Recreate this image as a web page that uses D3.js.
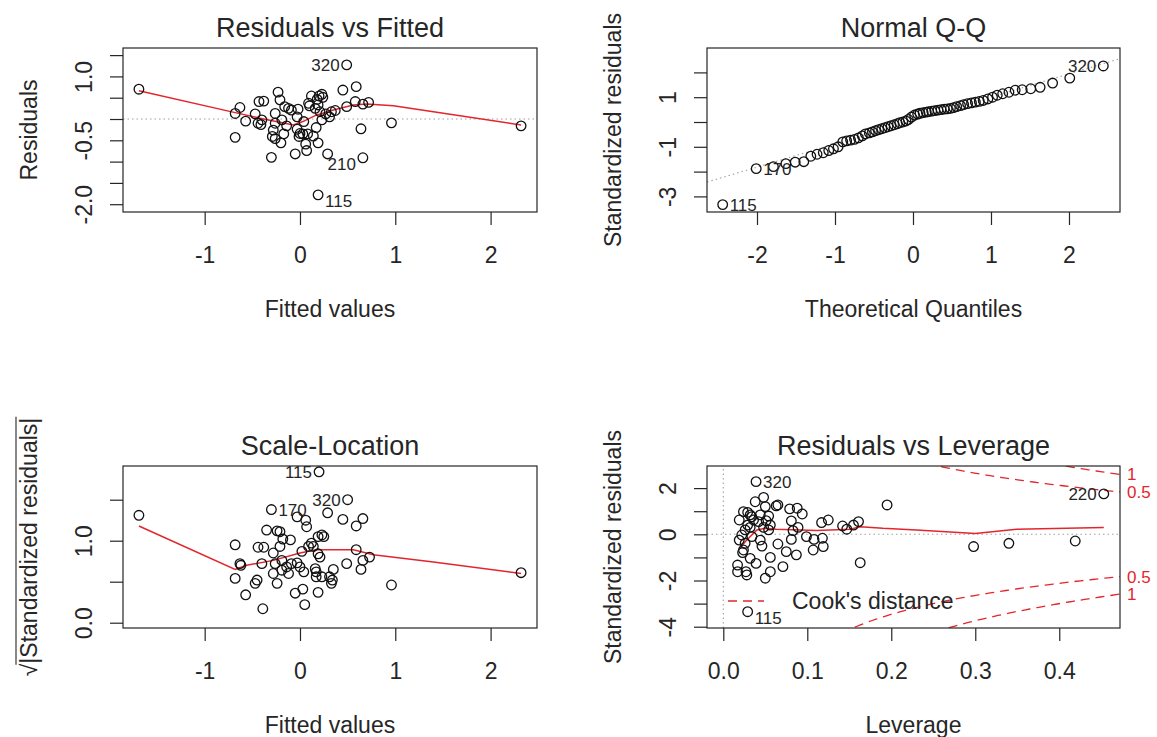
<!DOCTYPE html>
<html><head><meta charset="utf-8">
<script src="https://cdn.jsdelivr.net/npm/d3@7"></script>
<style>body{margin:0;background:#fff}</style>
</head><body><svg id="c" width="1157" height="737"></svg>
<script>
// ---------- DATA ----------
// Panel 1: Residuals vs Fitted
const rvfFitted = [-1.69,-0.68,-0.63,-0.68,-0.57,-0.47,-0.43,-0.38,-0.44,-0.40,-0.41,-0.30,-0.23,-0.21,-0.26,-0.26,-0.28,-0.29,-0.26,-0.20,-0.17,-0.16,-0.12,-0.09,-0.03,-0.02,-0.05,-0.03,0.00,0.04,0.03,0.06,0.07,0.09,0.12,0.14,0.17,0.19,0.19,0.20,0.23,0.24,0.19,0.21,0.23,0.29,0.27,0.33,0.37,0.45,0.49,0.49,0.59,0.58,0.64,0.66,0.66,0.72,0.96,2.32,0.10,0.16,-0.01,-0.14,-0.19,0.31,0.18,0.08];
const rvfResid = [0.70,0.13,0.27,-0.43,-0.05,0.12,0.41,0.42,-0.10,-0.02,-0.13,-0.90,0.63,0.45,0.13,-0.10,-0.26,-0.41,-0.46,-0.56,-0.35,0.29,0.25,0.21,0.05,0.23,-0.82,-0.24,-0.34,-0.06,-0.35,-0.59,-0.74,0.37,0.54,-0.40,-0.20,-0.56,-1.78,0.54,0.58,0.51,0.33,0.17,-0.02,-0.82,0.12,0.17,0.20,0.68,1.27,0.29,0.76,0.41,-0.23,-0.91,0.35,0.39,-0.09,-0.16,0.31,0.25,-0.41,-0.16,-0.02,0.05,0.46,-0.35];
const rvfSmoothX = [-1.69,-0.68,-0.42,-0.07,0.03,0.17,0.35,0.56,0.70,0.98,1.40,2.32];
const rvfSmoothY = [0.665,0.15,0.02,-0.14,-0.06,0.09,0.21,0.33,0.35,0.31,0.17,-0.14];
const rvfLabelIdx = [50, 38, 55];
const rvfLabelText = ["320", "115", "210"];
const rvfLabelSide = ["l", "r", "l"];
const rvfXTicks = [-1, 0, 1, 2];
const rvfXLabels = ["-1", "0", "1", "2"];
const rvfYTicks = [-2, -1.5, -1, -0.5, 0, 0.5, 1, 1.5];
const rvfYLabels = ["-2.0", "", "", "-0.5", "", "", "1.0", ""];

// Panel 2: Normal Q-Q
const qqTheo = [-2.44,-2.01,-1.79,-1.63,-1.51,-1.40,-1.31,-1.23,-1.15,-1.08,-1.02,-0.96,-0.90,-0.85,-0.80,-0.75,-0.70,-0.65,-0.61,-0.56,-0.52,-0.48,-0.44,-0.40,-0.36,-0.32,-0.28,-0.24,-0.20,-0.17,-0.13,-0.09,-0.06,-0.02,0.02,0.06,0.09,0.13,0.17,0.20,0.24,0.28,0.32,0.36,0.40,0.44,0.48,0.52,0.56,0.61,0.65,0.70,0.75,0.80,0.85,0.90,0.96,1.02,1.08,1.15,1.23,1.31,1.40,1.51,1.63,1.79,2.01,2.44];
const qqStd = [-3.33,-1.88,-1.80,-1.68,-1.62,-1.60,-1.38,-1.30,-1.24,-1.15,-1.08,-1.00,-0.80,-0.76,-0.73,-0.70,-0.64,-0.56,-0.48,-0.44,-0.40,-0.35,-0.31,-0.27,-0.23,-0.19,-0.15,-0.11,-0.07,-0.03,0.00,0.04,0.10,0.20,0.28,0.32,0.35,0.38,0.40,0.42,0.44,0.46,0.48,0.50,0.52,0.53,0.55,0.58,0.62,0.66,0.70,0.74,0.77,0.80,0.83,0.87,0.93,1.00,1.08,1.14,1.20,1.28,1.30,1.34,1.40,1.57,1.77,2.26];
const qqLineIntercept = 0.06;
const qqLineSlope = 0.94;
const qqLabelIdx = [67, 1, 0];
const qqLabelText = ["320", "170", "115"];
const qqLabelSide = ["l", "r", "r"];
const qqXTicks = [-2, -1, 0, 1, 2];
const qqXLabels = ["-2", "-1", "0", "1", "2"];
const qqYTicks = [-3, -2, -1, 0, 1, 2];
const qqYLabels = ["-3", "", "-1", "", "1", ""];

// Panel 3: Scale-Location
const slFitted = [-1.69,-0.68,-0.63,-0.62,-0.68,-0.57,-0.47,-0.45,-0.39,-0.44,-0.38,-0.40,-0.35,-0.30,-0.24,-0.21,-0.18,-0.21,-0.28,-0.26,-0.28,-0.24,-0.19,-0.14,-0.09,-0.03,-0.05,-0.03,0.02,0.03,0.05,0.06,0.07,0.09,0.12,0.16,0.17,0.19,0.20,0.19,0.23,0.25,0.21,0.23,0.29,0.31,0.35,0.33,0.45,0.50,0.49,0.59,0.66,0.59,0.64,0.66,0.73,0.96,2.32,0.19,0.14,0.00,-0.12,-0.19,0.04,0.17,0.34,-0.10];
const slSqrtStd = [1.31,0.95,0.72,0.70,0.54,0.34,0.48,0.52,0.17,0.92,0.92,0.72,1.13,1.38,1.12,1.11,1.02,0.93,0.85,0.72,0.60,0.48,0.64,0.68,0.72,0.73,0.36,1.29,0.87,0.41,0.22,1.25,1.17,0.93,0.97,0.66,0.56,0.37,1.84,1.05,1.07,1.05,0.80,0.56,1.34,0.56,0.65,0.48,1.26,1.50,0.72,1.18,1.27,0.89,0.65,0.76,0.80,0.46,0.61,0.84,0.93,0.68,0.60,0.76,0.62,0.62,0.52,1.01];
const slSmoothX = [-1.69,-0.68,-0.56,-0.28,0.00,0.17,0.56,0.77,1.40,2.32];
const slSmoothY = [1.18,0.65,0.70,0.76,0.85,0.89,0.89,0.83,0.74,0.60];
const slLabelIdx = [38, 13, 49];
const slLabelText = ["115", "170", "320"];
const slLabelSide = ["l", "r", "l"];
const slYTicks = [0, 0.5, 1, 1.5];
const slYLabels = ["0.0", "", "1.0", ""];

// Panel 4: Residuals vs Leverage
const rvlLev = [0.039,0.029,0.453,0.195,0.298,0.340,0.419,0.163,0.017,0.017,0.028,0.027,0.050,0.056,0.071,0.056,0.039,0.032,0.023,0.026,0.046,0.065,0.075,0.087,0.081,0.083,0.089,0.081,0.079,0.088,0.094,0.107,0.119,0.108,0.099,0.118,0.117,0.125,0.142,0.147,0.155,0.161,0.038,0.048,0.050,0.063,0.065,0.024,0.029,0.032,0.044,0.054,0.036,0.042,0.051,0.056,0.029,0.026,0.032,0.048,0.054,0.022,0.019,0.024,0.034,0.044,0.019,0.034];
const rvlStd = [2.28,-3.35,1.75,1.27,-0.53,-0.39,-0.29,-1.23,-1.33,-1.62,-1.76,-1.62,-1.90,-1.62,-1.40,-1.00,-1.26,-1.04,-0.79,-0.39,-0.51,-0.42,-0.75,-0.89,-0.22,0.16,0.30,0.58,1.10,1.13,0.88,-0.68,-0.53,-0.22,-0.10,-0.17,0.51,0.62,0.36,0.22,0.40,0.55,1.41,1.60,1.20,1.23,1.27,0.98,0.95,0.84,0.84,0.79,0.62,0.55,0.59,0.40,0.40,0.19,0.30,0.30,0.19,-0.03,-0.25,-0.68,-0.10,-0.25,0.62,0.76];
const rvlSmoothX = [0.019,0.028,0.040,0.050,0.063,0.111,0.151,0.163,0.190,0.230,0.300,0.349,0.453];
const rvlSmoothY = [-0.61,-0.25,0.19,0.26,0.22,0.16,0.22,0.33,0.26,0.19,0.04,0.22,0.30];
const rvlLabelIdx = [0, 1, 2];
const rvlLabelText = ["320", "115", "220"];
const rvlLabelSide = ["r", "r", "l"];
const rvlXTicks = [0, 0.1, 0.2, 0.3, 0.4];
const rvlXLabels = ["0.0", "0.1", "0.2", "0.3", "0.4"];
const rvlYTicks = [-4, -3, -2, -1, 0, 1, 2];
const rvlYLabels = ["-4", "", "-2", "", "0", "", "2"];
const cookLevels = [0.5, 1];
const nParams = 6;

// ---------- DRAWING ----------
const FONT = '"Liberation Sans", Arial, Helvetica, sans-serif';
const INK = "#262626";
const RED = "#e3262c";
const GREY = "#a0a0a0";
const svg = d3.select("#c");
svg.append("rect").attr("width", 1157).attr("height", 737).attr("fill", "#fff");

function makePanel(o) {
  const x = d3.scaleLinear().domain(o.xd).range([o.l, o.r]);
  const y = d3.scaleLinear().domain(o.yd).range([o.b, o.t]);
  const cid = "clip" + o.key;
  svg.append("clipPath").attr("id", cid).append("rect")
    .attr("x", o.l).attr("y", o.t).attr("width", o.r - o.l).attr("height", o.b - o.t);
  const g = svg.append("g");
  const clipped = g.append("g").attr("clip-path", `url(#${cid})`);

  const xa = g.append("g").attr("transform", `translate(0,${o.b})`)
    .call(d3.axisBottom(x).tickValues(o.xt).tickFormat((d, i) => o.xl[i]).tickSize(13).tickSizeOuter(0));
  xa.attr("font-size", 23).attr("font-family", FONT);
  xa.select(".domain").remove();
  xa.selectAll("line").attr("stroke", INK).attr("stroke-width", 1.2);
  xa.selectAll("text").attr("y", 51).attr("dy", null).attr("fill", INK);

  const ya = g.append("g").attr("transform", `translate(${o.l},0)`)
    .call(d3.axisLeft(y).tickValues(o.yt).tickFormat((d, i) => o.yl[i]).tickSize(13).tickSizeOuter(0));
  ya.attr("font-size", 23).attr("font-family", FONT);
  ya.select(".domain").remove();
  ya.selectAll("line").attr("stroke", INK).attr("stroke-width", 1.2);
  ya.selectAll("text").attr("x", null).attr("dy", null).attr("fill", INK)
    .attr("text-anchor", "middle").attr("transform", "translate(-31,0) rotate(-90)");

  g.append("rect").attr("x", o.l).attr("y", o.t).attr("width", o.r - o.l).attr("height", o.b - o.t)
    .attr("fill", "none").attr("stroke", INK).attr("stroke-width", 1.2);

  g.append("text").attr("x", (o.l + o.r) / 2).attr("y", o.t - 11).attr("text-anchor", "middle")
    .attr("font-family", FONT).attr("font-size", 27).attr("fill", INK).text(o.title);
  g.append("text").attr("x", (o.l + o.r) / 2).attr("y", o.b + 105).attr("text-anchor", "middle")
    .attr("font-family", FONT).attr("font-size", 23).attr("fill", INK).text(o.xtitle);
  if (o.ytitle) {
    g.append("text").attr("transform", `translate(${o.l - 86},${(o.t + o.b) / 2}) rotate(-90)`)
      .attr("text-anchor", "middle").attr("font-family", FONT).attr("font-size", 23).attr("fill", INK)
      .text(o.ytitle);
  }
  return {x, y, g, clipped};
}

function hline(p, val) {
  p.clipped.append("line").attr("x1", p.x.range()[0]).attr("x2", p.x.range()[1])
    .attr("y1", p.y(val)).attr("y2", p.y(val))
    .attr("stroke", GREY).attr("stroke-width", 1.1).attr("stroke-dasharray", "1.5,3");
}
function vline(p, val) {
  p.clipped.append("line").attr("y1", p.y.range()[0]).attr("y2", p.y.range()[1])
    .attr("x1", p.x(val)).attr("x2", p.x(val))
    .attr("stroke", GREY).attr("stroke-width", 1.1).attr("stroke-dasharray", "1.5,3");
}
function points(p, xs, ys) {
  p.g.append("g").selectAll("circle").data(d3.zip(xs, ys)).join("circle")
    .attr("cx", d => p.x(d[0])).attr("cy", d => p.y(d[1])).attr("r", 4.8)
    .attr("fill", "none").attr("stroke", "#111").attr("stroke-width", 1.3);
}
function smooth(p, xs, ys) {
  p.clipped.append("path").datum(d3.zip(xs, ys))
    .attr("d", d3.line().x(d => p.x(d[0])).y(d => p.y(d[1])))
    .attr("fill", "none").attr("stroke", RED).attr("stroke-width", 1.5);
}
function labels(p, xs, ys, idx, txt, side, lowerNeg) {
  idx.forEach((k, i) => {
    const px = p.x(xs[k]), py = p.y(ys[k]);
    const dy = (lowerNeg && ys[k] < 0) ? 6 : 0;
    p.g.append("text").attr("x", side[i] === "l" ? px - 7 : px + 7).attr("y", py + 6 + dy)
      .attr("text-anchor", side[i] === "l" ? "end" : "start")
      .attr("font-family", FONT).attr("font-size", 17).attr("fill", INK).text(txt[i]);
  });
}

// Panel 1
const p1 = makePanel({key: 1, l: 123, r: 537, t: 48, b: 212, xd: [-1.857, 2.487], yd: [-2.183, 1.667],
  xt: rvfXTicks, xl: rvfXLabels, yt: rvfYTicks, yl: rvfYLabels,
  title: "Residuals vs Fitted", xtitle: "Fitted values", ytitle: "Residuals"});
hline(p1, 0);
smooth(p1, rvfSmoothX, rvfSmoothY);
points(p1, rvfFitted, rvfResid);
labels(p1, rvfFitted, rvfResid, rvfLabelIdx, rvfLabelText, rvfLabelSide, true);

// Panel 2
const p2 = makePanel({key: 2, l: 707, r: 1120, t: 48, b: 212, xd: [-2.641, 2.654], yd: [-3.629, 2.984],
  xt: qqXTicks, xl: qqXLabels, yt: qqYTicks, yl: qqYLabels,
  title: "Normal Q-Q", xtitle: "Theoretical Quantiles", ytitle: "Standardized residuals"});
{
  const xd = p2.x.domain();
  p2.clipped.append("line")
    .attr("x1", p2.x(xd[0])).attr("y1", p2.y(qqLineIntercept + qqLineSlope * xd[0]))
    .attr("x2", p2.x(xd[1])).attr("y2", p2.y(qqLineIntercept + qqLineSlope * xd[1]))
    .attr("stroke", GREY).attr("stroke-width", 1.1).attr("stroke-dasharray", "1.5,3");
}
points(p2, qqTheo, qqStd);
labels(p2, qqTheo, qqStd, qqLabelIdx, qqLabelText, qqLabelSide, false);

// Panel 3
const p3 = makePanel({key: 3, l: 123, r: 537, t: 466, b: 628, xd: [-1.857, 2.487], yd: [-0.0646, 1.911],
  xt: rvfXTicks, xl: rvfXLabels, yt: slYTicks, yl: slYLabels,
  title: "Scale-Location", xtitle: "Fitted values", ytitle: null});
{
  const tr = `translate(${123 - 86},${(466 + 628) / 2}) rotate(-90)`;
  const t = p3.g.append("text").attr("transform", tr)
    .attr("text-anchor", "middle").attr("font-family", FONT).attr("font-size", 23).attr("fill", INK);
  t.append("tspan").text("\u221A");
  t.append("tspan").text("|Standardized residuals|");
  const node = t.node();
  const total = node.getComputedTextLength();
  const rootW = node.getSubStringLength(0, 1);
  p3.g.append("line").attr("transform", tr)
    .attr("x1", -total / 2 + rootW - 1).attr("x2", total / 2 + 1).attr("y1", -21).attr("y2", -21)
    .attr("stroke", INK).attr("stroke-width", 1.1);
}
smooth(p3, slSmoothX, slSmoothY);
points(p3, slFitted, slSqrtStd);
labels(p3, slFitted, slSqrtStd, slLabelIdx, slLabelText, slLabelSide, false);

// Panel 4
const p4 = makePanel({key: 4, l: 707, r: 1120, t: 466, b: 628, xd: [-0.0194, 0.4723], yd: [-4.056, 2.957],
  xt: rvlXTicks, xl: rvlXLabels, yt: rvlYTicks, yl: rvlYLabels,
  title: "Residuals vs Leverage", xtitle: "Leverage", ytitle: "Standardized residuals"});
hline(p4, 0);
vline(p4, 0);
{
  const hmax = p4.x.domain()[1];
  const hh = d3.range(0, 101).map(i => 0.004 + (hmax - 0.004) * i / 100);
  cookLevels.forEach(lv => {
    [1, -1].forEach(s => {
      p4.clipped.append("path").datum(hh)
        .attr("d", d3.line().x(h => p4.x(h)).y(h => p4.y(s * Math.sqrt(lv * nParams * (1 - h) / h))))
        .attr("fill", "none").attr("stroke", RED).attr("stroke-width", 1.3).attr("stroke-dasharray", "9,6");
      const yv = s * Math.sqrt(lv * nParams * (1 - hmax) / hmax);
      p4.g.append("text").attr("x", 1127).attr("y", p4.y(yv) + 6)
        .attr("font-family", FONT).attr("font-size", 17).attr("fill", RED).text(String(lv));
    });
  });
}
smooth(p4, rvlSmoothX, rvlSmoothY);
points(p4, rvlLev, rvlStd);
labels(p4, rvlLev, rvlStd, rvlLabelIdx, rvlLabelText, rvlLabelSide, true);
p4.g.append("line").attr("x1", 728).attr("x2", 764).attr("y1", 601).attr("y2", 601)
  .attr("stroke", RED).attr("stroke-width", 1.3).attr("stroke-dasharray", "9,6");
p4.g.append("text").attr("x", 792).attr("y", 609).attr("font-family", FONT).attr("font-size", 23)
  .attr("fill", INK).text("Cook's distance");
</script></body></html>
